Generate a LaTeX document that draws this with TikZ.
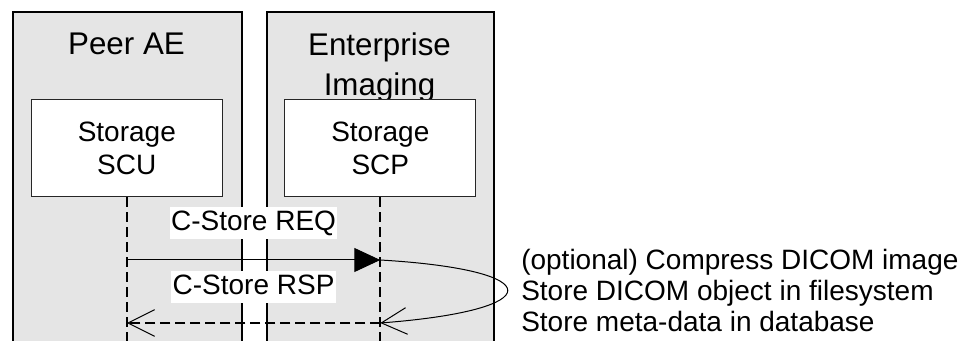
\documentclass[tikz,border=0pt]{standalone}
\usepackage{fontspec}
\setmainfont{Liberation Sans}
\usetikzlibrary{arrows.meta,positioning,calc}
\begin{document}
\begin{tikzpicture}[x=0.75pt,y=-0.75pt,
  panel/.style={draw=black,line width=1.5pt,fill=black!10,minimum height=300pt,anchor=north west,inner sep=0pt},
  title/.style={anchor=north,inner sep=0pt,align=center,font=\fontsize{23.5}{30}\selectfont},
  svcbox/.style={draw=black!85,line width=0.75pt,fill=white,minimum width=143.25pt,minimum height=72.75pt,align=center,font=\fontsize{21}{24.75}\selectfont},
  lifeline/.style={line width=1.5pt,dash pattern=on 7.5pt off 3.75pt},
  msglabel/.style={fill=white,inner xsep=1pt,inner ysep=2pt,text height=15.5pt,text depth=4.5pt,font=\fontsize{21}{24}\selectfont},
  req/.style={line width=0.75pt,-{Triangle[length=19.5pt,width=18pt]}},
  rsp/.style={line width=1.5pt,dash pattern=on 7.5pt off 3.75pt,-{Straight Barb[length=20pt,width=20pt,line width=0.75pt]}},
  loopback/.style={line width=0.75pt,-{Straight Barb[length=19pt,width=20pt]}}]
\useasboundingbox (0,0) rectangle (970,341);
\clip (0,0) rectangle (970,341);
\node[panel,minimum width=171.75pt] (peer) at (12,11) {};
\node[panel,minimum width=170.25pt] (ei) at (266,11) {};
\node[title] (peertitle) at (126.5,32.5) {Peer AE};
\node[title] (eititle) at (379.5,32.5) {Enterprise\\Imaging};
\node[svcbox] (scu) at (126.8,148.5) {Storage\\SCU};
\node[svcbox] (scp) at (380.3,148.5) {Storage\\SCP};
\coordinate (scuend) at (scu.south |- 0,345);
\coordinate (scpend) at (scp.south |- 0,345);
\draw[lifeline] (scu) -- (scuend);
\draw[lifeline] (scp) -- (scpend);
\draw[req] (scu.south |- 0,260) coordinate (reqa) -- node[msglabel,above=15.5pt] (reqlbl) {C-Store REQ} (scp.south |- 0,260) coordinate (reqb);
\draw[rsp] (scp.south |- 0,323) coordinate (rspa) -- node[msglabel,above=14pt] (rsplbl) {C-Store RSP} (scu.south |- 0,323) coordinate (rspb);
\draw[loopback] (reqb) .. controls (550,270) and (550,310) .. (rspa);
\node[anchor=west,inner sep=0pt,align=left,font=\fontsize{21}{23.25}\selectfont] (notes) at (521,290) {(optional) Compress DICOM image\\Store DICOM object in filesystem\\Store meta-data in database};
\end{tikzpicture}
\end{document}
